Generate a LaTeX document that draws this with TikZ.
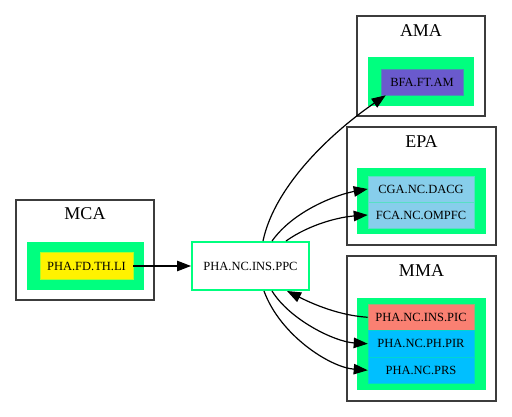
\documentclass[tikz,border=0pt]{standalone}
\usepackage{fontspec}
\setmainfont{Liberation Serif}
\usepackage{tikz}
\usetikzlibrary{arrows.meta,positioning}
\usepackage{xcolor}
\definecolor{sgreen}{RGB}{0,255,127}
\definecolor{slate}{RGB}{106,90,205}
\definecolor{sky}{RGB}{135,206,235}
\definecolor{salmonred}{RGB}{250,128,114}
\definecolor{deepsky}{RGB}{0,191,255}
\definecolor{framegray}{RGB}{60,60,60}
\tikzstyle{arrow} = [line width=1.2pt,-{Triangle[length=14pt,width=10.5pt]},color=black]
\tikzstyle{cluster} = [draw=framegray,line width=1.3pt,fill=white,inner sep=0pt]
\tikzstyle{group} = [fill=sgreen,inner sep=0pt]
\tikzstyle{title} = [font=\fontsize{18}{20}\selectfont]
\tikzstyle{item} = [inner sep=0pt,font=\fontsize{12.5}{14}\selectfont,draw=sgreen!35!#1,line width=0.6pt,fill=#1]

\begin{document}
\begin{tikzpicture}[x=1pt,y=-1pt]
    \useasboundingbox[fill=white] (0,0) rectangle (512,417);

    % Clusters
    \node[cluster, minimum width=138, minimum height=100] (mca) at (85,250) {};
    \node[title] (mcatitle) at (85,214) {MCA};
    \node[group, minimum width=117, minimum height=48] (mcagroup) at (85.5,266) {};

    \node[cluster, minimum width=128, minimum height=100] (ama) at (421,66) {};
    \node[title] (amatitle) at (421,31) {AMA};
    \node[group, minimum width=106, minimum height=49] (amagroup) at (421,81.5) {};

    \node[cluster, minimum width=149, minimum height=118] (epa) at (421.5,186) {};
    \node[title] (epatitle) at (421.5,142) {EPA};
    \node[group, minimum width=129, minimum height=66] (epagroup) at (421.5,201) {};

    \node[cluster, minimum width=149, minimum height=145] (mma) at (421.5,328.5) {};
    \node[title] (mmatitle) at (421.5,271) {MMA};
    \node[group, minimum width=129, minimum height=92] (mmagroup) at (421.5,344) {};

    % Nodes
    \node[item=yellow, minimum width=93, minimum height=27] (li) at (86.5,266) {PHA.FD.TH.LI};
    \node[draw=sgreen, line width=2pt, fill=white, inner sep=0pt, minimum width=117, minimum height=48,
          font=\fontsize{12.5}{14}\selectfont] (ppc) at (250.5,266) {PHA.NC.INS.PPC};
    \node[item=slate, minimum width=82, minimum height=26] (bfa) at (422,82) {BFA.FT.AM};
    \node[item=sky, minimum width=106, minimum height=26] (cga) at (421,189) {CGA.NC.DACG};
    \node[item=sky, minimum width=106, minimum height=26] (fca) at (421,215) {FCA.NC.OMPFC};
    \node[item=salmonred, minimum width=106, minimum height=26.5] (pic) at (421,317.25) {PHA.NC.INS.PIC};
    \node[item=deepsky, minimum width=106, minimum height=26.5] (pir) at (421,343.75) {PHA.NC.PH.PIR};
    \node[item=deepsky, minimum width=106, minimum height=26.5] (prs) at (421,370.25) {PHA.NC.PRS};

    % Edges
    \draw[arrow] (li.east) -- (ppc.west);
    \draw[arrow] ([xshift=12.5pt]ppc.north) .. controls +(12,-57) and +(-51,35) .. ([xshift=5pt]bfa.south west);
    \draw[arrow] ([xshift=21.5pt]ppc.north) .. controls +(23,-32) and +(-28,5) .. (cga.west);
    \draw[arrow] ([xshift=35.5pt]ppc.north) .. controls +(24,-17) and +(-28,2) .. (fca.west);
    \draw[arrow] (pic.west) .. controls +(-33,-2) and +(18,9) .. ([xshift=36.5pt]ppc.south);
    \draw[arrow] ([xshift=21.5pt]ppc.south) .. controls +(18,29) and +(-33,-2) .. (pir.west);
    \draw[arrow] ([xshift=13.5pt]ppc.south) .. controls +(16,44) and +(-38,-3) .. (prs.west);
\end{tikzpicture}
\end{document}
